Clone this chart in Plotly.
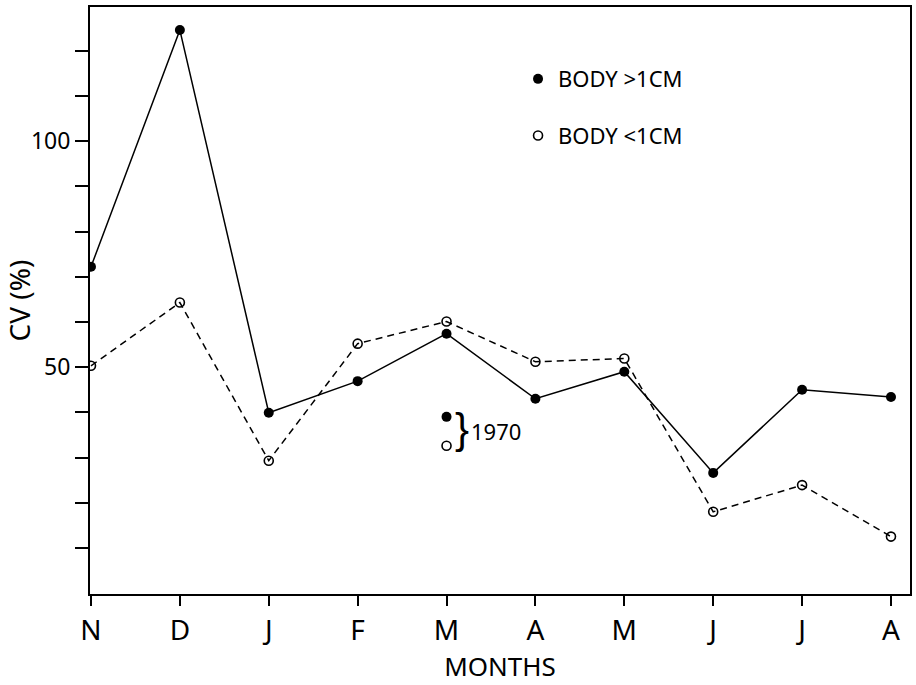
import plotly.graph_objects as go

months = ["N", "D", "J", "F", "M", "A", "M", "J", "J", "A"]
month_pos = list(range(len(months)))
body_gt_1cm = [72.2, 124.6, 39.9, 46.9, 57.4, 43.0, 49.0, 26.6, 45.0, 43.4]
body_lt_1cm = [50.3, 64.3, 29.3, 55.2, 60.1, 51.2, 51.9, 18.0, 23.9, 12.5]
pos_1970 = [4]
gt_1970 = [39.0]
lt_1970 = [32.6]
ytick_vals = [10, 20, 30, 40, 50, 60, 70, 80, 90, 100, 110, 120]
ytick_text = ["", "", "", "", "50", "", "", "", "", "100", "", ""]

FONT = "Noto Sans"
fig = go.Figure()

fig.add_trace(go.Scatter(
    x=month_pos, y=body_lt_1cm, mode="lines+markers", showlegend=False,
    line=dict(color="black", width=1.5, dash="7px,5px"),
    marker=dict(symbol="circle-open", size=9, color="black", line=dict(width=1.6)),
))
fig.add_trace(go.Scatter(
    x=month_pos, y=body_gt_1cm, mode="lines+markers", showlegend=False,
    line=dict(color="black", width=1.5),
    marker=dict(symbol="circle", size=10, color="black"),
))
fig.add_trace(go.Scatter(
    x=pos_1970, y=gt_1970, mode="markers", showlegend=False,
    marker=dict(symbol="circle", size=10, color="black"),
))
fig.add_trace(go.Scatter(
    x=pos_1970, y=lt_1970, mode="markers", showlegend=False,
    marker=dict(symbol="circle-open", size=9, color="black", line=dict(width=1.6)),
))
# legend entries
fig.add_trace(go.Scatter(
    x=[None], y=[None], mode="markers", name="BODY >1CM", legendgroup="a",
    marker=dict(symbol="circle", size=10, color="black"),
))
fig.add_trace(go.Scatter(
    x=[None], y=[None], mode="markers", name="BODY <1CM", legendgroup="b",
    marker=dict(symbol="circle-open", size=9, color="black", line=dict(width=1.6)),
))

fig.add_annotation(
    x=pos_1970[0], y=(gt_1970[0] + lt_1970[0]) / 2, xref="x", yref="y",
    text="}", showarrow=False, xanchor="left", xshift=7, yshift=3, borderpad=0,
    font=dict(family="Liberation Sans", size=42, color="black", weight=300),
)
fig.add_annotation(
    x=pos_1970[0], y=(gt_1970[0] + lt_1970[0]) / 2, xref="x", yref="y",
    text="1970", showarrow=False, xanchor="left", xshift=23, yshift=0, borderpad=0,
    font=dict(family=FONT, size=22, color="black"),
)

fig.update_layout(
    width=916, height=685,
    margin=dict(l=90, r=6, t=7, b=91),
    paper_bgcolor="white", plot_bgcolor="white",
    font=dict(family=FONT, color="black"),
    legend=dict(
        x=0.522, y=0.913, xanchor="left", yanchor="top",
        bgcolor="rgba(0,0,0,0)", font=dict(family=FONT, size=22, color="black"),
        tracegroupgap=25, itemwidth=30,
    ),
    xaxis=dict(
        range=[-0.011, 9.214], tickmode="array", tickvals=month_pos, ticktext=months,
        showgrid=False, zeroline=False, showline=True, linecolor="black", linewidth=2,
        mirror=True, ticks="outside", ticklen=10, tickwidth=2, tickcolor="black",
        tickfont=dict(family=FONT, size=28), automargin=False,
        title=dict(text="MONTHS", font=dict(family=FONT, size=26), standoff=4),
    ),
    yaxis=dict(
        range=[-0.2, 129.7], tickmode="array", tickvals=ytick_vals, ticktext=ytick_text,
        showgrid=False, zeroline=False, showline=True, linecolor="black", linewidth=2,
        mirror=True, ticks="outside", ticklen=13, tickwidth=2, tickcolor="black",
        tickfont=dict(family=FONT, size=23), automargin=False,
        title=dict(text="CV (%)", font=dict(family=FONT, size=28), standoff=6),
    ),
)

fig.write_html(
    "out.html",
    config={"displayModeBar": False},
    post_script="document.body.style.margin='0px';",
)
